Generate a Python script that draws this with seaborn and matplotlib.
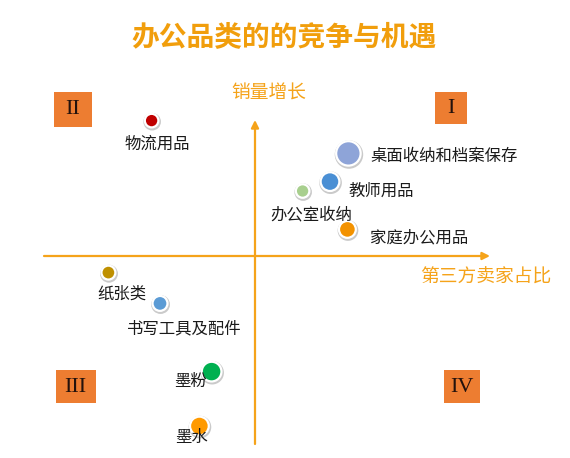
import matplotlib
matplotlib.use("Agg")
import matplotlib.pyplot as plt
import matplotlib.transforms as mtransforms
from matplotlib.patches import Rectangle
import seaborn as sns
import pandas as pd

# ---------------- data ----------------
categories = ["物流用品", "桌面收纳和档案保存", "教师用品", "办公室收纳", "家庭办公用品",
              "纸张类", "书写工具及配件", "墨粉", "墨水"]
# third-party seller share (relative to the centre line)
seller_share = [-5.17, 4.67, 3.75, 2.38, 4.62, -7.33, -4.75, -2.17, -2.78]
# sales growth (relative to the centre line)
sales_growth = [6.77, 5.13, 3.72, 3.25, 1.33, -0.83, -2.37, -5.78, -8.50]
# bubble volume
volume = [53, 169, 100, 53, 81, 56, 64, 110, 100]
colors = ["#C00000", "#8EA4D8", "#4A8FD4", "#A8CF8E", "#F39200",
          "#BF9000", "#5B9BD5", "#00B050", "#FF9A00"]
quadrants = ["II", "I", "III", "IV"]
title = "办公品类的的竞争与机遇"
y_label = "销量增长"
x_label = "第三方卖家占比"

df = pd.DataFrame({"cat": categories, "x": seller_share, "y": sales_growth, "v": volume})

# ---------------- style ----------------
sns.set_theme(style="white")
plt.rcParams["font.family"] = ["Noto Sans CJK SC", "DejaVu Sans"]

W, H = 570, 458
fig = plt.figure(figsize=(W / 100, H / 100), dpi=100)
ax = fig.add_axes([0, 0, 1, 1])
ax.set_xlim(-255 / 20, (W - 255) / 20)
ax.set_ylim((256 - H) / 20, 256 / 20)
ax.axis("off")

def P(px, py):
    return ((px - 255) / 20, (256 - py) / 20)

orange = "#F5A31A"

# axes arrows
ax.annotate("", xy=P(490, 256), xytext=P(44, 256),
            arrowprops=dict(arrowstyle="-|>", color=orange, lw=1.6, mutation_scale=11,
                            shrinkA=0, shrinkB=0))
ax.annotate("", xy=P(255, 120), xytext=P(255, 444),
            arrowprops=dict(arrowstyle="-|>", color=orange, lw=1.6, mutation_scale=11,
                            shrinkA=0, shrinkB=0))

ax.text(*P(269, 93), y_label, color=orange, fontsize=13.5, ha="center", va="center")
ax.text(*P(486, 277), x_label, color=orange, fontsize=13.5, ha="center", va="center")

# soft shadow ring under bubbles
pal = dict(zip(categories, colors))
shadow = mtransforms.offset_copy(ax.transData, fig=fig, x=0.4, y=-0.8, units="points")
sizes = (95, 310)
norm = (53, 169)
sns.scatterplot(data=df, x="x", y="y", size="v", sizes=(160, 420),
                size_norm=norm, color="#8a8a8a", alpha=0.45, linewidth=0,
                legend=False, ax=ax, transform=shadow, zorder=2)
sns.scatterplot(data=df, x="x", y="y", hue="cat", palette=pal, size="v", sizes=sizes,
                size_norm=norm, edgecolor="white", linewidth=1.6, alpha=1,
                legend=False, ax=ax, zorder=3)
ax.set_xlabel("")
ax.set_ylabel("")

# labels
label_pos = {
    "物流用品": (6, 24, "center"),
    "桌面收纳和档案保存": (21.7, 3.4, "left"),
    "教师用品": (18, 10, "left"),
    "办公室收纳": (9, 24, "center"),
    "家庭办公用品": (22.7, 8.7, "left"),
    "纸张类": (14, 22, "center"),
    "书写工具及配件": (24, 25, "center"),
    "墨粉": (-21, 10, "center"),
    "墨水": (-8, 11, "center"),
}
for c, x, y in zip(categories, seller_share, sales_growth):
    dx, dy, ha = label_pos[c]
    ax.annotate(c, (x, y), xytext=(dx * 0.72, -dy * 0.72), textcoords="offset points",
                ha=ha, va="center", fontsize=11.8, color="#1a1a1a", zorder=5)

# quadrant boxes
boxes = {"II": (73, 109, 37.7, 35), "I": (451, 107.5, 31.7, 32),
         "III": (75.7, 386.4, 40, 33), "IV": (462, 386.5, 36, 33)}
for q in quadrants:
    cx, cy, bw, bh = boxes[q]
    x0, y0 = P(cx - bw / 2, cy + bh / 2)
    ax.add_patch(Rectangle((x0, y0), bw / 20, bh / 20, facecolor="#ED7D31",
                           edgecolor="none", zorder=4))
    ax.text(*P(cx, cy + 1), q, family="Liberation Serif", fontsize=16,
            color="#24120c", ha="center", va="center", zorder=5)

fig.text(284 / W, 1 - 38.5 / H, title, color="#F19E0C", fontsize=20, fontweight="bold",
         ha="center", va="center")

fig.savefig("out.png", dpi=100)
